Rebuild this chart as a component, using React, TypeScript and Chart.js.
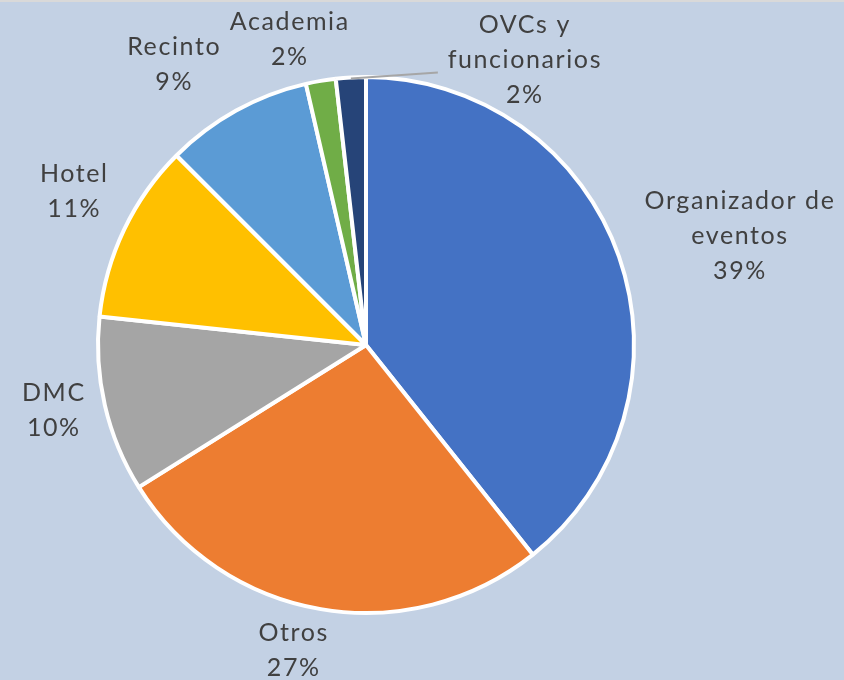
import React, { useEffect, useRef } from "react";
import { Chart, registerables } from "chart.js";

Chart.register(...registerables);

const categories: string[][] = [
  ["Organizador de", "eventos"],
  ["Otros"],
  ["DMC"],
  ["Hotel"],
  ["Recinto"],
  ["Academia"],
  ["OVCs y", "funcionarios"],
];
const values: number[] = [39.3, 26.8, 10.6, 10.8, 8.9, 1.8, 1.8];
const percentLabels: string[] = ["39%", "27%", "10%", "11%", "9%", "2%", "2%"];
const colors: string[] = ["#4472C4", "#ED7D31", "#A5A5A5", "#FFC000", "#5B9BD5", "#70AD47", "#264478"];

// label offsets (px) from the arc's outer mid-point to the label block centre
const labelOffsets: [number, number][] = [
  [121, -21],
  [-27, 41],
  [-51, 5],
  [-50, -38],
  [-62, -46],
  [-31, -41],
  [174, -17],
];

const BG = "#C3D1E4";

const bgPlugin = {
  id: "bg",
  beforeDraw(chart: any) {
    const ctx = chart.ctx;
    ctx.save();
    ctx.fillStyle = BG;
    ctx.fillRect(0, 0, chart.width, chart.height);
    ctx.fillStyle = "#D9D9D9";
    ctx.fillRect(0, 0, chart.width, 2);
    ctx.restore();
  },
};

const labelPlugin = {
  id: "pieLabels",
  afterDatasetsDraw(chart: any) {
    const ctx = chart.ctx;
    const meta = chart.getDatasetMeta(0);
    ctx.save();
    ctx.font = "25px Lato";
    (ctx as any).letterSpacing = "1.6px";
    ctx.fillStyle = "#404040";
    ctx.textAlign = "center";
    ctx.textBaseline = "middle";
    const lineH = 35;
    meta.data.forEach((arc: any, i: number) => {
      const { x, y, startAngle, endAngle, outerRadius } = arc.getProps(
        ["x", "y", "startAngle", "endAngle", "outerRadius"],
        true
      );
      const mid = (startAngle + endAngle) / 2;
      const ox = x + Math.cos(mid) * outerRadius;
      const oy = y + Math.sin(mid) * outerRadius;
      const [dx, dy] = labelOffsets[i];
      const cx = ox + dx;
      const cy = oy + dy;
      const lines = [...categories[i], percentLabels[i]];
      const top = cy - ((lines.length - 1) * lineH) / 2;
      lines.forEach((ln, k) => {
        ctx.fillText(ln, cx, top + k * lineH);
      });
      if (i === 6) {
        // leader line
        ctx.strokeStyle = "#A6A6A6";
        ctx.lineWidth = 2;
        ctx.beginPath();
        ctx.moveTo(ox, oy + 1);
        ctx.lineTo(cx - 87, oy - 5);
        ctx.stroke();
      }
    });
    ctx.restore();
  },
};

export default function App() {
  const ref = useRef<HTMLCanvasElement>(null);
  useEffect(() => {
    document.body.style.margin = "0";
    const chart = new Chart(ref.current!, {
      type: "pie",
      data: {
        labels: categories.map((c) => c.join(" ")),
        datasets: [
          {
            data: values,
            backgroundColor: colors,
            borderColor: "#FFFFFF",
            borderWidth: 4,
            radius: 268,
          } as any,
        ],
      },
      options: {
        responsive: false,
        animation: false,
        layout: { padding: { left: 98, right: 210, top: 77, bottom: 67 } },
        plugins: {
          legend: { display: false },
          tooltip: { enabled: false },
        },
      },
      plugins: [bgPlugin, labelPlugin],
    });
    return () => chart.destroy();
  }, []);
  return (
    <div style={{ width: 844, height: 680 }}>
      <canvas ref={ref} width={844} height={680} style={{ display: "block" }} />
    </div>
  );
}
